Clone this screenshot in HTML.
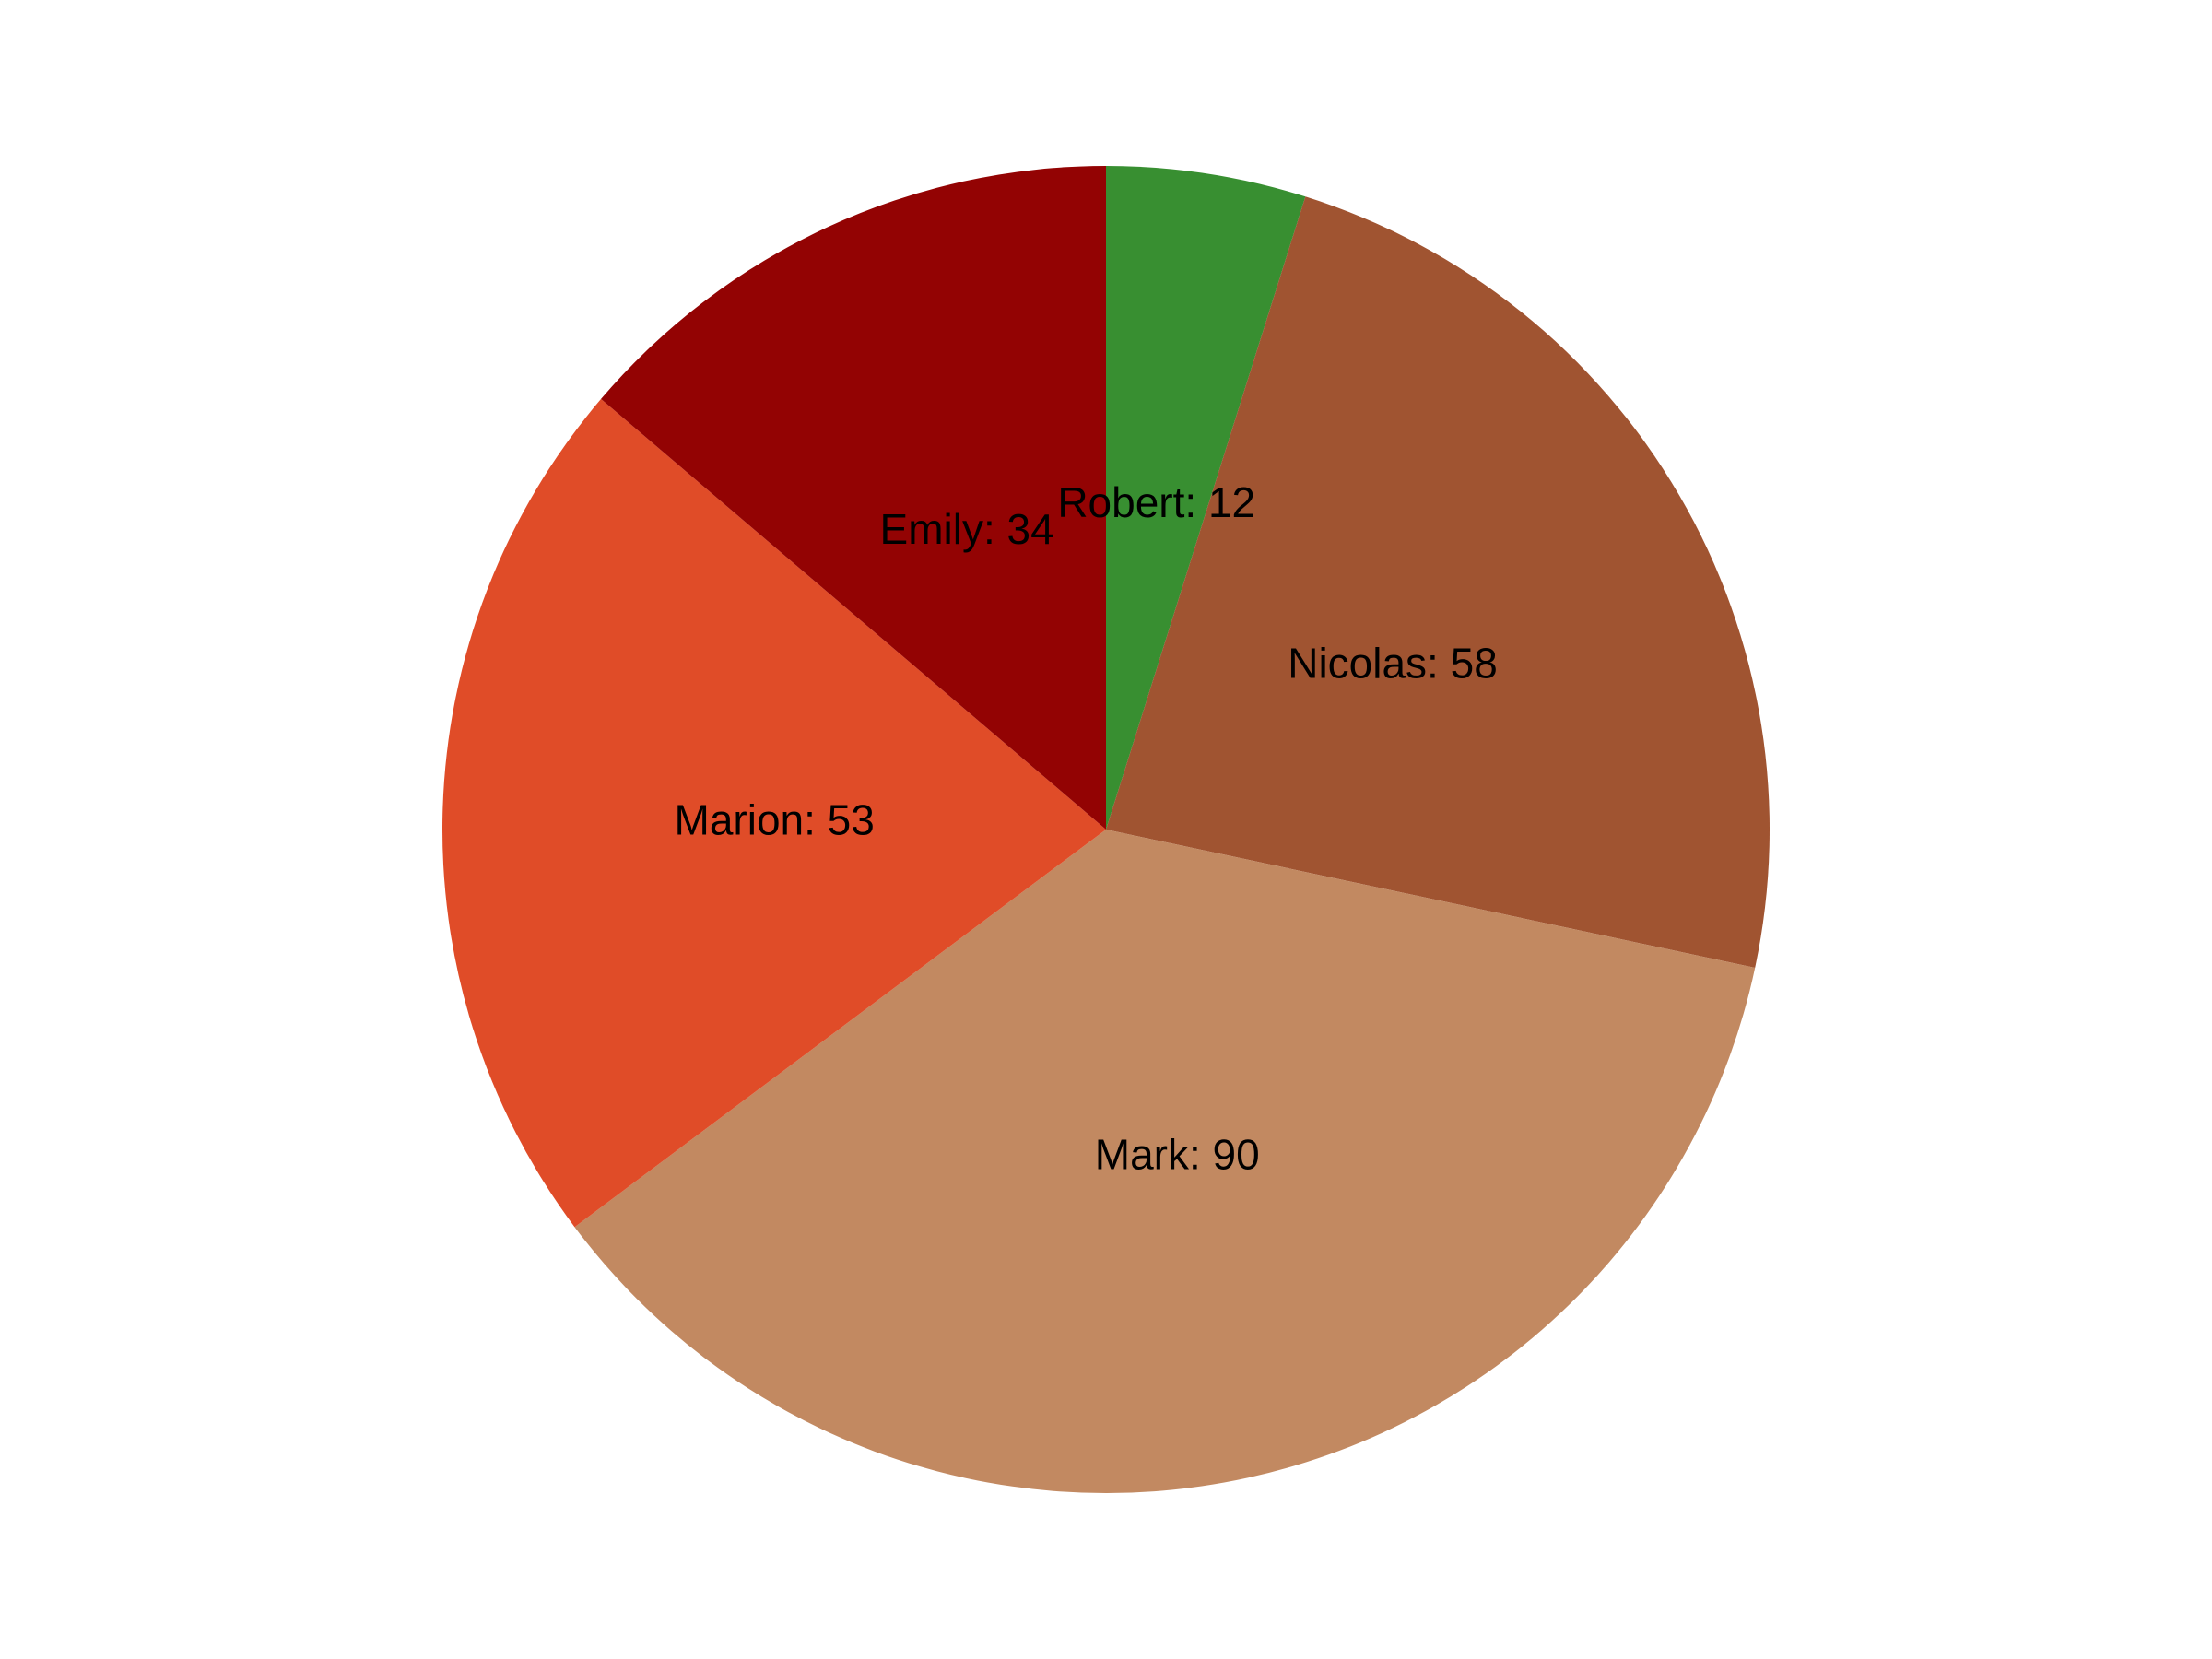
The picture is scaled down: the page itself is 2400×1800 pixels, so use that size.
<!DOCTYPE html>
<html lang="en">
<head>
<meta charset="utf-8">
<title>Pie chart</title>
<style>
html,body{margin:0;padding:0;background:#fff;width:2400px;height:1800px;overflow:hidden}
svg{display:block}
text{font-family:"Liberation Sans",Arial,sans-serif;font-size:46px;fill:#000;text-anchor:middle}
</style>
</head>
<body>
<svg id="chart" xmlns="http://www.w3.org/2000/svg" width="2400" height="1800" viewBox="0 0 2400 1800">
<rect x="0" y="0" width="2400" height="1800" fill="#ffffff"/>
<g id="slices"></g>
<g id="labels"></g>
</svg>
<script>
const categories = ["Robert", "Nicolas", "Mark", "Marion", "Emily"];
const values = [12, 58, 90, 53, 34];
const sliceColors = ["#388f31", "#a05431", "#c28961", "#e04c28", "#930303"];

const NS = "http://www.w3.org/2000/svg";
const cx = 1200, cy = 900, radius = 720, labelRadius = 360, baselineShift = 17;
const total = values.reduce(function (a, b) { return a + b; }, 0);
function angleOf(v) { return v / total * Math.PI * 2; }
function px(a, r) { return cx + r * Math.sin(a); }
function py(a, r) { return cy - r * Math.cos(a); }

const slicesGroup = document.getElementById("slices");
const labelsGroup = document.getElementById("labels");
let cumulative = 0;
values.forEach(function (v, i) {
  const start = angleOf(cumulative);
  const end = angleOf(cumulative + v);
  const mid = (start + end) / 2;
  const large = end - start > Math.PI ? 1 : 0;
  const slug = categories[i].toLowerCase();

  const path = document.createElementNS(NS, "path");
  path.setAttribute("d", "M" + cx + " " + cy + " L" + px(start, radius) + " " + py(start, radius) +
    " A" + radius + " " + radius + " 0 " + large + " 1 " + px(end, radius) + " " + py(end, radius) + " Z");
  path.setAttribute("fill", sliceColors[i]);
  
  
  slicesGroup.appendChild(path);

  const label = document.createElementNS(NS, "text");
  label.setAttribute("x", px(mid, labelRadius));
  label.setAttribute("y", py(mid, labelRadius) + baselineShift);
  label.textContent = categories[i] + ": " + v;
  
  
  labelsGroup.appendChild(label);

  cumulative += v;
});
</script>
</body>
</html>
